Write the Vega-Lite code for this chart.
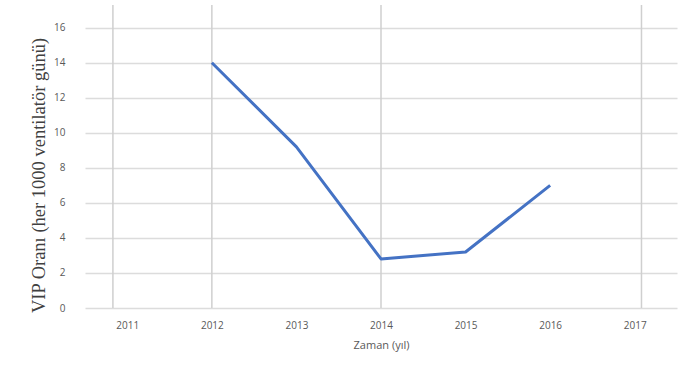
{
  "$schema": "https://vega.github.io/schema/vega-lite/v6.json",
  "width": 592,
  "height": 303,
  "autosize": {"type": "none"},
  "padding": {"left": 85, "top": 5, "right": 18, "bottom": 76},
  "background": "white",
  "config": {
    "view": {"stroke": null},
    "axis": {"labelFont": "Open Sans", "labelColor": "#595959", "labelFontSize": 10}
  },
  "datasets": {
    "rate": [
      {"year": 2012, "vip": 14.0},
      {"year": 2013, "vip": 9.2},
      {"year": 2014, "vip": 2.8},
      {"year": 2015, "vip": 3.2},
      {"year": 2016, "vip": 7.0}
    ],
    "vgrid": [
      {"year": 2010.83},
      {"year": 2012},
      {"year": 2014},
      {"year": 2017.08}
    ]
  },
  "layer": [
    {
      "data": {"name": "vgrid"},
      "mark": {"type": "rule", "color": "#cfcfcf", "strokeWidth": 1.5},
      "encoding": {
        "x": {
          "field": "year",
          "type": "quantitative",
          "scale": {"domain": [2010.5, 2017.5], "nice": false, "zero": false},
          "axis": {
            "values": [2011, 2012, 2013, 2014, 2015, 2016, 2017],
            "format": "d",
            "grid": false,
            "domain": false,
            "ticks": false,
            "labelPadding": 12,
            "title": "Zaman (yıl)",
            "titleFont": "Open Sans",
            "titleFontWeight": "normal",
            "titleFontSize": 11,
            "titleColor": "#595959",
            "titlePadding": 9
          }
        }
      }
    },
    {
      "data": {"name": "rate"},
      "mark": {"type": "line", "color": "#4472C4", "strokeWidth": 3, "strokeJoin": "round"},
      "encoding": {
        "x": {
          "field": "year",
          "type": "quantitative",
          "scale": {"domain": [2010.5, 2017.5], "nice": false, "zero": false},
          "axis": {
            "values": [2011, 2012, 2013, 2014, 2015, 2016, 2017],
            "format": "d",
            "grid": false,
            "domain": false,
            "ticks": false,
            "labelPadding": 12,
            "title": "Zaman (yıl)",
            "titleFont": "Open Sans",
            "titleFontWeight": "normal",
            "titleFontSize": 11,
            "titleColor": "#595959",
            "titlePadding": 9
          }
        },
        "y": {
          "field": "vip",
          "type": "quantitative",
          "scale": {"domain": [0, 17.3], "nice": false},
          "axis": {
            "values": [0, 2, 4, 6, 8, 10, 12, 14, 16],
            "grid": true,
            "gridColor": "#dcdcdc",
            "gridWidth": 1.5,
            "domain": false,
            "ticks": false,
            "labelPadding": 20,
            "title": "VIP Oranı (her 1000 ventilatör günü)",
            "titleFont": "Liberation Serif",
            "titleFontWeight": "normal",
            "titleFontSize": 18.5,
            "titleColor": "#404040",
            "titlePadding": 5,
            "titleY": 170
          }
        }
      }
    }
  ]
}
